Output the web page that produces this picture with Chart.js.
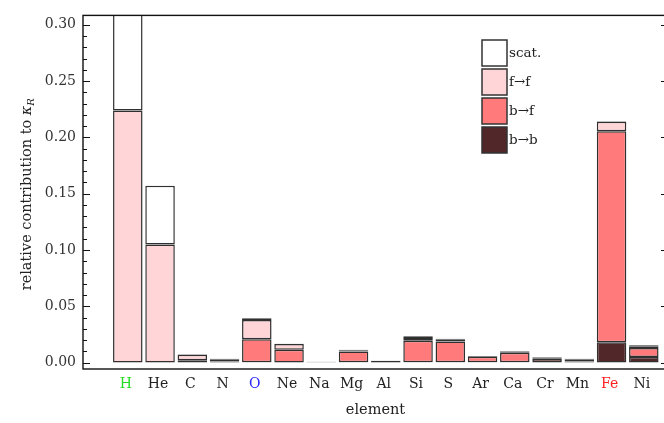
<!DOCTYPE html>
<html><head><meta charset="utf-8">
<script src="https://cdn.jsdelivr.net/npm/chart.js@4.4.1/dist/chart.umd.min.js"></script>
<style>html,body{margin:0;padding:0;overflow:hidden;background:#fff}canvas{display:block}</style>
</head><body><canvas id="c" width="670" height="423"></canvas>
<script>
// Relative contribution of each element to the Rosseland mean opacity, split by process
const elements = ['H','He','C','N','O','Ne','Na','Mg','Al','Si','S','Ar','Ca','Cr','Mn','Fe','Ni'];
const boundBound = [0, 0, 0.0005, 0.001, 0.0003, 0, 0.0003, 0.0003, 0.0005, 0.0003, 0.0002, 0.0002, 0.0003, 0.0005, 0.001, 0.018, 0.005];
const boundFree  = [0, 0, 0.0015, 0.002, 0.0205, 0.0115, 0.0004, 0.0095, 0.001, 0.019, 0.0185, 0.005, 0.0085, 0.003, 0.002, 0.1875, 0.008];
const freeFree   = [0.224, 0.105, 0.005, 0.0005, 0.017, 0.005, 0.0001, 0.0012, 0.0002, 0.0025, 0.002, 0.0006, 0.001, 0.001, 0.0003, 0.0085, 0.0015];
const scattering = [0.10, 0.052, 0.0003, 0, 0.0015, 0.0003, 0, 0.0005, 0, 0.0015, 0.0005, 0, 0.0005, 0.0005, 0.0002, 0.0003, 0.0008];
const yTickValues = [0, 0.05, 0.10, 0.15, 0.20, 0.25, 0.30];
const labelColors = { H: '#22dd22', O: '#2a2aff', Fe: '#ff1f1f' };

const FONT = '"DejaVu Serif", serif';
const toPoints = arr => arr.map((v, i) => ({ x: i, y: v }));
const seg = (label, data, color) => ({
  label, data: toPoints(data), backgroundColor: color,
  borderColor: '#303030', borderWidth: 1.5, borderSkipped: false,
  barPercentage: 0.915, categoryPercentage: 1.0
});

// frame, inward ticks, legend and y-axis title
const decorations = {
  id: 'decorations',
  afterDraw(chart) {
    const { ctx, chartArea: a, scales: { y } } = chart;
    ctx.save();
    ctx.strokeStyle = '#111';
    ctx.lineWidth = 1.4;
    ctx.strokeRect(a.left, a.top, a.right - a.left, a.bottom - a.top);
    ctx.lineWidth = 1;
    for (let k = 0; k <= 30; k++) {
      const py = Math.round(y.getPixelForValue(k / 100)) + 0.5;
      const len = k % 5 === 0 ? 7 : 4;
      ctx.beginPath();
      ctx.moveTo(a.left, py); ctx.lineTo(a.left + len, py);
      ctx.moveTo(a.right, py); ctx.lineTo(a.right - len, py);
      ctx.stroke();
    }
    // legend
    const ds = chart.data.datasets.slice().reverse();
    ds.forEach((d, i) => {
      const bx = 482, by = 40 + i * 29;
      ctx.fillStyle = d.backgroundColor;
      ctx.fillRect(bx, by, 25, 26);
      ctx.strokeStyle = '#333';
      ctx.lineWidth = 1.5;
      ctx.strokeRect(bx, by, 25, 26);
      ctx.fillStyle = '#222';
      ctx.font = '13.5px ' + FONT;
      ctx.textBaseline = 'middle';
      ctx.textAlign = 'left';
      ctx.fillText(d.label, bx + 27, by + 13);
    });
    // y title with subscript
    const cy = (a.top + a.bottom) / 2 + 2;
    ctx.translate(27, cy);
    ctx.rotate(-Math.PI / 2);
    ctx.fillStyle = '#222';
    ctx.textBaseline = 'middle';
    const main = 'relative contribution to ';
    ctx.font = '14.5px ' + FONT;
    const w1 = ctx.measureText(main).width;
    ctx.font = 'italic 14.5px ' + FONT;
    const w2 = ctx.measureText('κ').width;
    ctx.font = 'italic 10px ' + FONT;
    const w3 = ctx.measureText('R').width;
    let x0 = -(w1 + w2 + w3) / 2;
    ctx.textAlign = 'left';
    ctx.font = '14.5px ' + FONT;
    ctx.fillText(main, x0, 0);
    ctx.font = 'italic 14.5px ' + FONT;
    ctx.fillText('κ', x0 + w1, 0);
    ctx.font = 'italic 10px ' + FONT;
    ctx.fillText('R', x0 + w1 + w2, 4);
    ctx.restore();
  }
};

new Chart(document.getElementById('c'), {
  type: 'bar',
  data: {
    datasets: [
      seg('b\u2192b', boundBound, '#52272a'),
      seg('b\u2192f', boundFree, '#ff7b7b'),
      seg('f\u2192f', freeFree, '#ffd5d7'),
      seg('scat.', scattering, '#ffffff')
    ]
  },
  options: {
    responsive: false,
    animation: false,
    layout: { padding: { top: 5, right: 2, left: 0, bottom: 0 } },
    plugins: { legend: { display: false }, tooltip: { enabled: false } },
    scales: {
      x: {
        type: 'linear', stacked: true, min: -1.389, max: 16.75, offset: false,
        grid: { display: false, drawTicks: false },
        border: { display: false },
        afterBuildTicks: s => { s.ticks = elements.map((_, i) => ({ value: i })); },
        afterFit: s => { s.height = 54; },
        ticks: {
          padding: 7, maxRotation: 0, autoSkip: false, labelOffset: -2,
          font: { family: FONT, size: 14 },
          color: c => labelColors[elements[c.tick.value]] || '#222',
          callback: v => elements[v]
        },
        title: { display: true, text: 'element', font: { family: FONT, size: 14.5 }, color: '#222', padding: { top: 0, bottom: 4 } }
      },
      y: {
        stacked: true, min: -0.0057, max: 0.3084,
        grid: { display: false, drawTicks: false },
        border: { display: false },
        afterBuildTicks: s => { s.ticks = yTickValues.map(v => ({ value: v })); },
        afterFit: s => { s.width = 83; },
        ticks: {
          padding: 7,
          font: { family: FONT, size: 14 },
          color: '#333',
          callback: v => v.toFixed(2)
        }
      }
    }
  },
  plugins: [decorations]
});
</script>
</body></html>
